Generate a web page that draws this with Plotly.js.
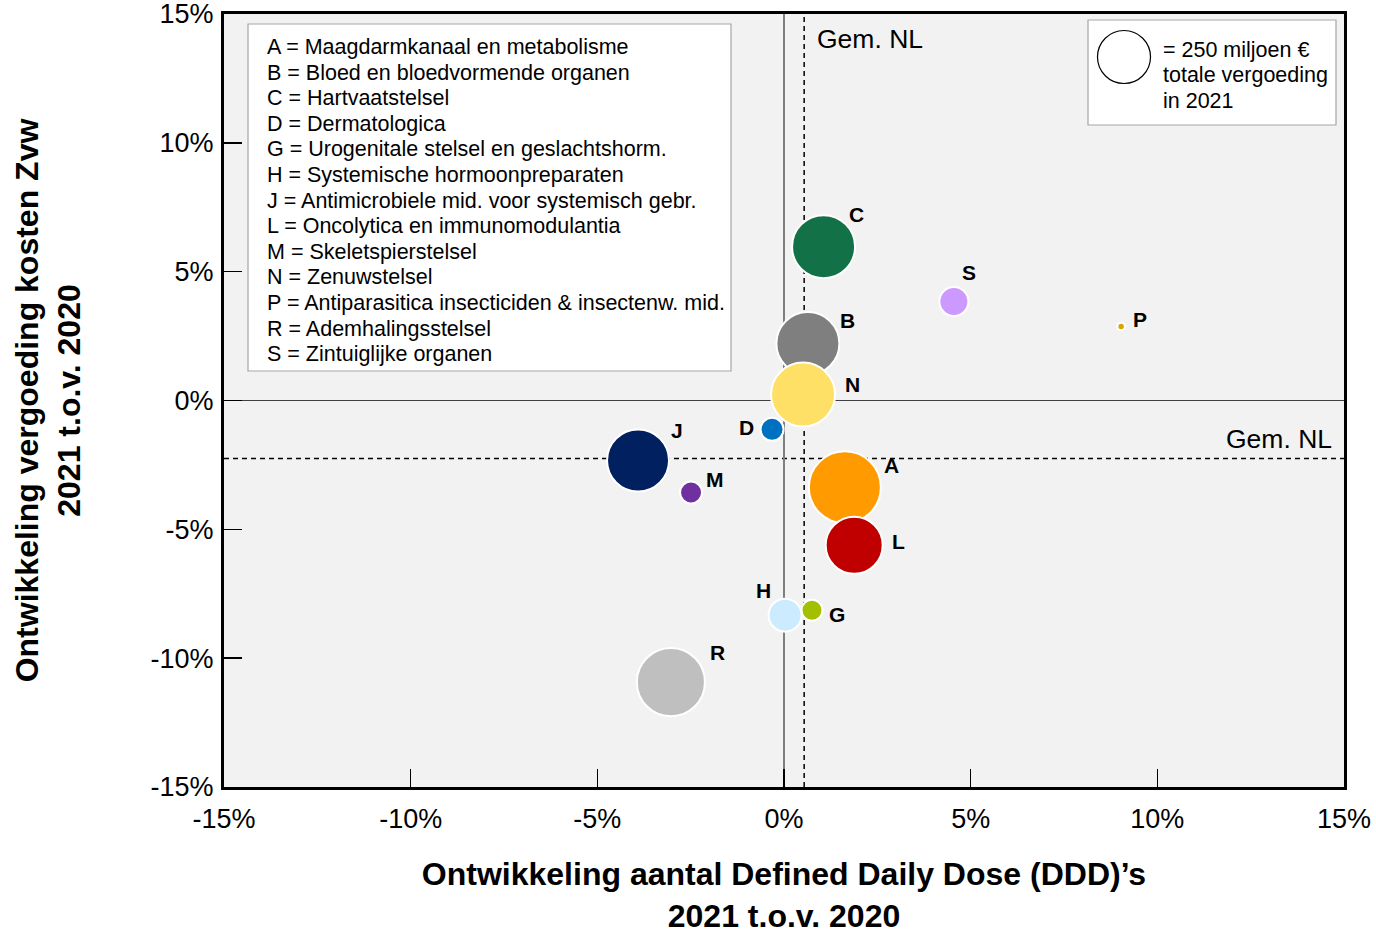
<!DOCTYPE html>
<html>
<head>
<meta charset="utf-8">
<script src="https://cdn.plot.ly/plotly-3.0.1.min.js"></script>
<style>
  html, body { margin: 0; padding: 0; background: #ffffff; }
  #chart { width: 1376px; height: 934px; }
</style>
</head>
<body>
<div id="chart"></div>
<script>
// ---- data ----
const categories = ['A', 'B', 'C', 'D', 'G', 'H', 'J', 'L', 'M', 'N', 'P', 'R', 'S'];
const descriptions = [
  'Maagdarmkanaal en metabolisme',
  'Bloed en bloedvormende organen',
  'Hartvaatstelsel',
  'Dermatologica',
  'Urogenitale stelsel en geslachtshorm.',
  'Systemische hormoonpreparaten',
  'Antimicrobiele mid. voor systemisch gebr.',
  'Oncolytica en immunomodulantia',
  'Skeletspierstelsel',
  'Zenuwstelsel',
  'Antiparasitica insecticiden & insectenw. mid.',
  'Ademhalingsstelsel',
  'Zintuiglijke organen'
];
// change in DDD 2021 vs 2020 (%)
const dddChange = [1.63, 0.64, 1.06, -0.32, 0.75, 0.03, -3.91, 1.88, -2.49, 0.51, 9.03, -3.03, 4.55];
// change in reimbursement cost 2021 vs 2020 (%)
const costChange = [-3.37, 2.21, 5.97, -1.12, -8.14, -8.33, -2.33, -5.62, -3.57, 0.23, 2.87, -10.93, 3.84];
// total reimbursement 2021 (million €)
const totalCost = [461, 353, 353, 47, 39, 97, 342, 289, 43, 365, 5, 412, 75];
// national averages
const avgDDD = 0.54;
const avgCost = -2.25;
const refBubbleValue = 250;
const refBubbleLines = ['= 250 miljoen €', 'totale vergoeding', 'in 2021'];
const avgLabel = 'Gem. NL';
// tick labels
const tickVals = [-15, -10, -5, 0, 5, 10, 15];
const tickText = ['-15%', '-10%', '-5%', '0%', '5%', '10%', '15%'];

// ---- styles ----
const colors = ['#FF9A00', '#7F7F7F', '#137147', '#0070C0', '#A2C000', '#CCEBFF', '#002060',
                '#C00000', '#7030A0', '#FFE066', '#D9A300', '#BFBFBF', '#CC99FF'];
// label offsets in px (x right, y up) relative to the bubble centre
const labelDX = [47, 40, 33, -26, 25, -22, 39, 44, 24, 49, 19, 47, 15];
const labelDY = [22, 23, 32, 2, -4, 25, 30, 4, 13, 10, 7, 30, 29];

const FONT = 'Liberation Sans, Arial, Helvetica, sans-serif';
const PLOT_TOP = 14, PLOT_H = 773, PLOT_L = 224, PLOT_W = 1120;
const px2py = (py) => 1 - (py - PLOT_TOP) / PLOT_H;
const px2px = (px) => (px - PLOT_L) / PLOT_W;

// plotly area mode: diameter = sqrt(2 * v / sizeref)
const refDiamPx = 53;
const sizeref = 2 * refBubbleValue / (refDiamPx * refDiamPx);
const refDiam = Math.sqrt(2 * refBubbleValue / sizeref);

const trace = {
  type: 'scatter',
  mode: 'markers',
  x: dddChange,
  y: costChange,
  text: categories,
  hovertext: descriptions,
  marker: {
    size: totalCost,
    sizemode: 'area',
    sizeref: sizeref,
    color: colors,
    opacity: 1,
    line: { color: '#ffffff', width: 2 }
  },
  showlegend: false,
  hoverinfo: 'text+x+y'
};

const annotations = categories.map((c, i) => ({
  x: dddChange[i], y: costChange[i], xref: 'x', yref: 'y',
  text: '<b>' + c + '</b>', showarrow: false,
  xshift: labelDX[i], yshift: labelDY[i],
  xanchor: 'center', yanchor: 'middle',
  font: { family: FONT, size: 21, color: '#000' }
}));

// category legend text, one line each
categories.forEach((c, i) => {
  annotations.push({
    xref: 'paper', yref: 'paper', x: px2px(265), y: px2py(47 + i * 25.6),
    xanchor: 'left', yanchor: 'middle', align: 'left', showarrow: false,
    text: c + ' = ' + descriptions[i],
    font: { family: FONT, size: 21.5, color: '#000' }
  });
});
// bubble size legend text
refBubbleLines.forEach((t, i) => {
  annotations.push({
    xref: 'paper', yref: 'paper', x: px2px(1161), y: px2py(50 + i * 25.5),
    xanchor: 'left', yanchor: 'middle', align: 'left', showarrow: false,
    text: t, font: { family: FONT, size: 21.5, color: '#000' }
  });
});
// average labels
annotations.push({
  xref: 'x', yref: 'paper', x: avgDDD, y: px2py(39), xshift: 11,
  xanchor: 'left', yanchor: 'middle', showarrow: false,
  text: avgLabel, font: { family: FONT, size: 26.5, color: '#000' }
});
annotations.push({
  xref: 'paper', yref: 'y', x: px2px(1334), y: avgCost, yshift: 19,
  xanchor: 'right', yanchor: 'middle', showarrow: false,
  text: avgLabel, font: { family: FONT, size: 26.5, color: '#000' }
});

const shapes = [
  // category legend box
  { type: 'rect', xref: 'paper', yref: 'paper', x0: px2px(248), x1: px2px(731), y0: px2py(371), y1: px2py(24),
    fillcolor: '#ffffff', line: { color: '#A6A6A6', width: 1.2 }, layer: 'below' },
  // size legend box
  { type: 'rect', xref: 'paper', yref: 'paper', x0: px2px(1088), x1: px2px(1336), y0: px2py(125), y1: px2py(20),
    fillcolor: '#ffffff', line: { color: '#A6A6A6', width: 1.2 }, layer: 'below' },
  // reference bubble
  { type: 'circle', xref: 'paper', yref: 'paper', xsizemode: 'pixel', ysizemode: 'pixel',
    xanchor: px2px(1124), yanchor: px2py(57),
    x0: -refDiam / 2, x1: refDiam / 2, y0: -refDiam / 2, y1: refDiam / 2,
    fillcolor: '#ffffff', line: { color: '#000000', width: 1.2 }, layer: 'above' },
  // average lines
  { type: 'line', xref: 'x', yref: 'paper', x0: avgDDD, x1: avgDDD, y0: 0, y1: 1,
    line: { color: '#000', width: 1.5, dash: '5px,4px' }, layer: 'below' },
  { type: 'line', xref: 'paper', yref: 'y', x0: 0, x1: 1, y0: avgCost, y1: avgCost,
    line: { color: '#000', width: 1.5, dash: '5px,4px' }, layer: 'below' }
];

const axisCommon = {
  range: [-15, 15],
  tickvals: tickVals,
  ticktext: tickText,
  ticks: 'inside',
  ticklen: 18,
  tickwidth: 1.5,
  tickcolor: '#000',
  showline: true,
  linewidth: 3,
  linecolor: '#000',
  mirror: true,
  showgrid: false,
  zeroline: true,
  fixedrange: true,
  automargin: false,
  ticklabeloverflow: 'allow',
  tickfont: { family: FONT, size: 27, color: '#000' }
};

const layout = {
  width: 1376,
  height: 934,
  margin: { l: 224, r: 32, t: 14, b: 147 },
  paper_bgcolor: '#ffffff',
  plot_bgcolor: '#F2F2F2',
  font: { family: FONT, color: '#000' },
  xaxis: Object.assign({}, axisCommon, {
    zerolinecolor: '#7F7F7F', zerolinewidth: 2,
    ticklabelstandoff: 6,
    title: {
      text: '<b>Ontwikkeling aantal Defined Daily Dose (DDD)’s</b><br><b>2021 t.o.v. 2020</b>',
      font: { family: FONT, size: 32, color: '#000' },
      standoff: 30
    }
  }),
  yaxis: Object.assign({}, axisCommon, {
    zerolinecolor: '#404040', zerolinewidth: 1.5,
    ticklabelstandoff: 2,
    title: {
      text: '<b>Ontwikkeling vergoeding kosten Zvw</b><br><b>2021 t.o.v. 2020</b>',
      font: { family: FONT, size: 32, color: '#000' },
      standoff: 61
    }
  }),
  shapes: shapes,
  annotations: annotations,
  showlegend: false
};

Plotly.newPlot('chart', [trace], layout, { displayModeBar: false, staticPlot: true });
</script>
</body>
</html>
